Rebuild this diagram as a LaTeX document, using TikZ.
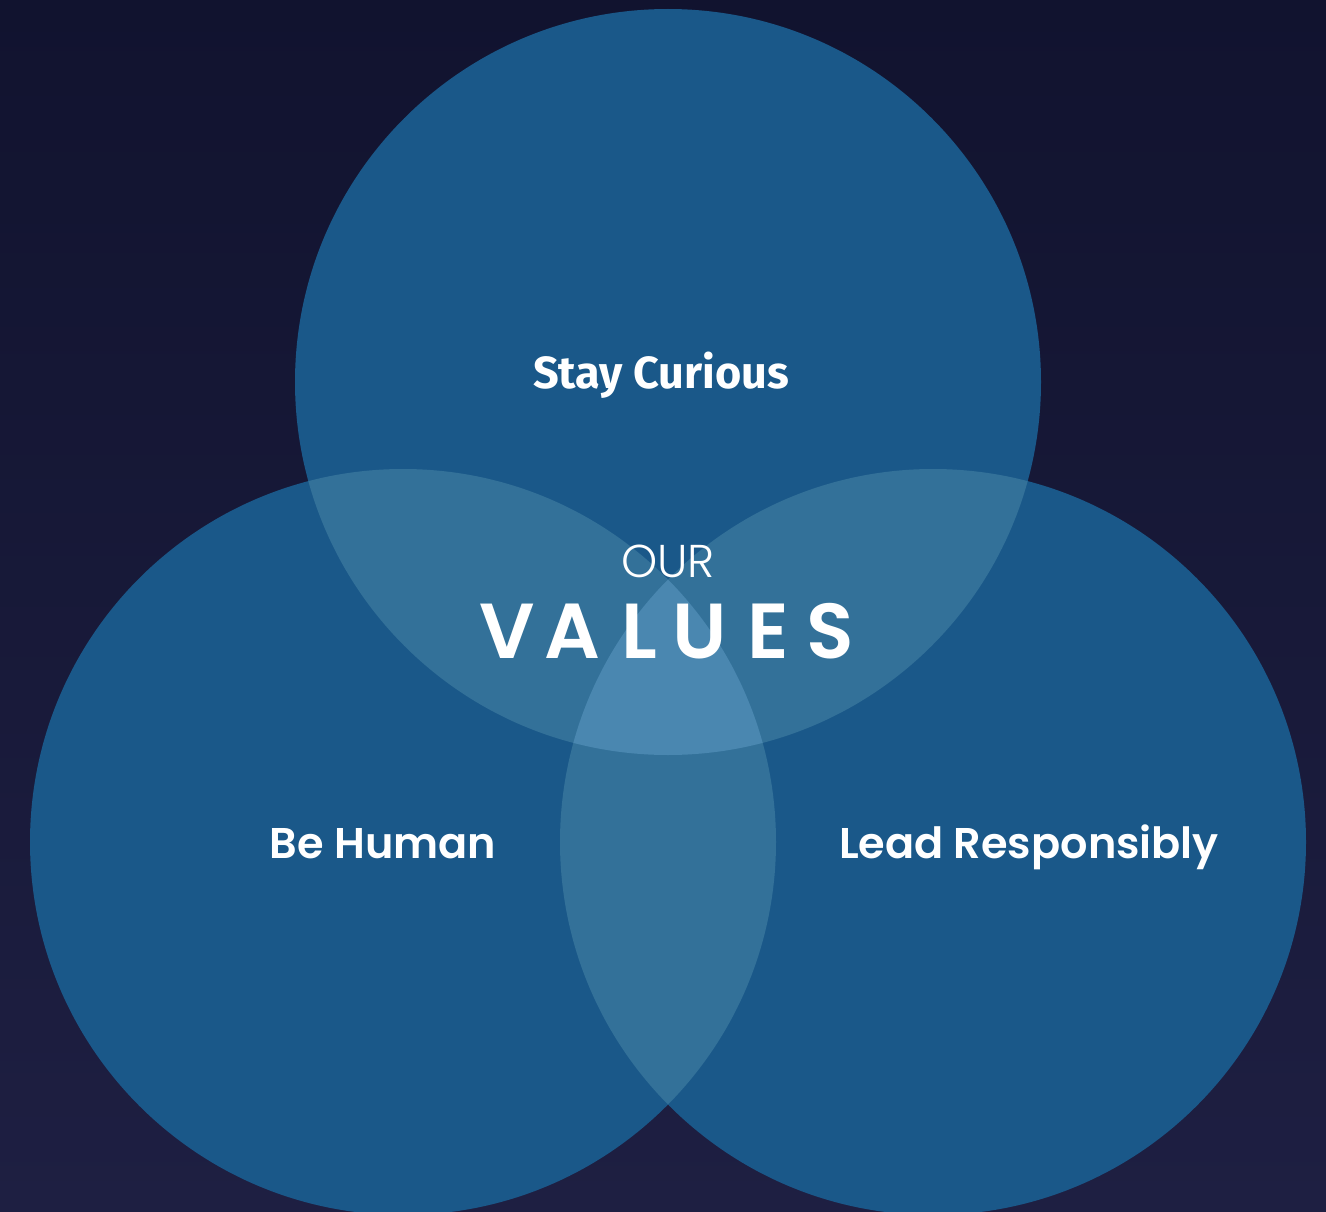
\documentclass[tikz,border=0pt]{standalone}
\usepackage{fontspec}
\setmainfont{Lato}
\newfontfamily\labelfont{Poppins}[UprightFont=* SemiBold]
\newfontfamily\topfont{Fira Sans}[UprightFont=* Bold]
\newfontfamily\ourfont{Poppins}[UprightFont=* Light]
\newfontfamily\valfont{Poppins}[UprightFont=* SemiBold]
\definecolor{bgtop}{HTML}{11132F}
\definecolor{bgbot}{HTML}{1E1F42}
\definecolor{circ}{HTML}{1A5889}
\definecolor{pair}{HTML}{337199}
\definecolor{triple}{HTML}{4A87B0}
\tikzset{
  lbl/.style={text=white, font=\labelfont\fontsize{43}{43}\selectfont, inner sep=0pt, anchor=base},
  toplbl/.style={text=white, font=\topfont\fontsize{45}{45}\selectfont, inner sep=0pt, anchor=base},
  ourtxt/.style={text=white, font=\ourfont\fontsize{46}{46}\selectfont, inner sep=0pt, anchor=base},
  valtxt/.style={text=white, font=\valfont\fontsize{78}{78}\selectfont, inner sep=0pt, anchor=base},
}
\begin{document}
\begin{tikzpicture}[x=1pt,y=-1pt]
\useasboundingbox (0,0) rectangle (1326,1212);
\shade[top color=bgtop, bottom color=bgbot] (0,0) rectangle (1326,1212);
\begin{scope}
\clip (0,0) rectangle (1326,1212);
\coordinate (T) at (668,382);
\coordinate (L) at (403,842);
\coordinate (R) at (933,842);
\fill[circ] (T) circle (373);
\fill[circ] (L) circle (373);
\fill[circ] (R) circle (373);
\begin{scope}\clip (T) circle (373); \fill[pair] (L) circle (373); \fill[pair] (R) circle (373);\end{scope}
\begin{scope}\clip (L) circle (373); \fill[pair] (R) circle (373);\end{scope}
\begin{scope}\clip (T) circle (373); \clip (L) circle (373); \fill[triple] (R) circle (373);\end{scope}
\end{scope}
\node[toplbl] (sc) at (661,388) {Stay Curious};
\node[lbl] (bh) at (383,858) {Be Human};
\node[lbl] (lr) at (1029,858) {Lead Responsibly};
\node[ourtxt] (our) at (668,577) {OUR};
\node[valtxt] (v1) at (507,658) {V};
\node[valtxt] (v2) at (572,658) {A};
\node[valtxt] (v3) at (639,658) {L};
\node[valtxt] (v4) at (700,658) {U};
\node[valtxt] (v5) at (768,658) {E};
\node[valtxt] (v6) at (830,658) {S};
\end{tikzpicture}
\end{document}
